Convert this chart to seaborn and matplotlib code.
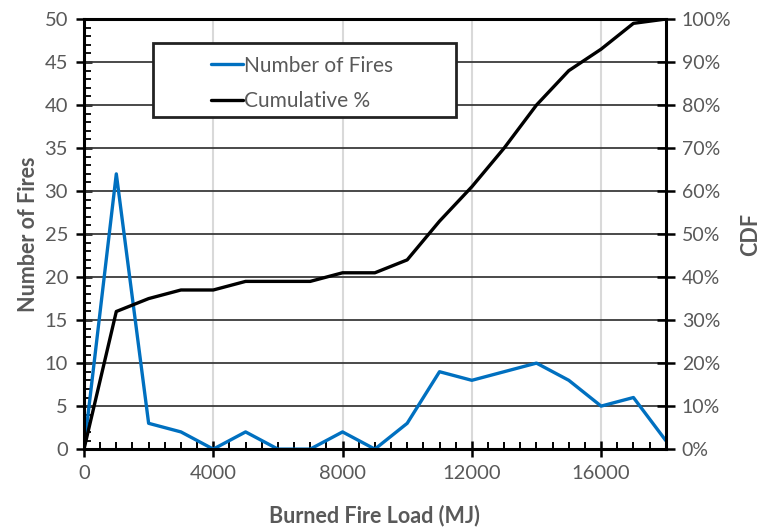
import matplotlib
matplotlib.use("Agg")
import matplotlib.pyplot as plt
import seaborn as sns
import pandas as pd
from matplotlib.patches import Rectangle
from matplotlib.ticker import MultipleLocator, FuncFormatter

# Data
fire_load = [0, 1000, 2000, 3000, 4000, 5000, 6000, 7000, 8000, 9000,
             10000, 11000, 12000, 13000, 14000, 15000, 16000, 17000, 18000]
num_fires = [0, 32, 3, 2, 0, 2, 0, 0, 2, 0, 3, 9, 8, 9, 10, 8, 5, 6, 1]
cumulative_pct = [0, 32, 35, 37, 37, 39, 39, 39, 41, 41, 44, 53, 61, 70, 80, 88, 93, 99, 100]

x_ticks = [0, 4000, 8000, 12000, 16000]
left_ticks = [0, 5, 10, 15, 20, 25, 30, 35, 40, 45, 50]
right_ticks = [0, 10, 20, 30, 40, 50, 60, 70, 80, 90, 100]

df = pd.DataFrame({"load": fire_load, "fires": num_fires, "cum": cumulative_pct})

sns.set_theme(style="white")
plt.rcParams["font.family"] = ["Lato", "DejaVu Sans"]
plt.rcParams.update({
    "xtick.bottom": True, "ytick.left": True, "ytick.right": True,
    "xtick.minor.visible": True, "ytick.minor.visible": True,
})
TXT = "#595959"
FS = 14.5

fig = plt.figure(figsize=(7.67, 5.29), dpi=100)
ax = fig.add_axes([0.1095, 0.151, 0.7585, 0.813])
ax2 = ax.twinx()

# Lines
sns.lineplot(data=df, x="load", y="fires", ax=ax, color="#0070C0", linewidth=2.4,
             label="Number of Fires", legend=False, zorder=5)
sns.lineplot(data=df, x="load", y="cum", ax=ax2, color="black", linewidth=2.4,
             label="Cumulative %", legend=False, zorder=5)

# Axes limits
ax.set_xlim(0, 18000)
ax.set_ylim(0, 50)
ax2.set_ylim(0, 100)

# Grid
for v in x_ticks[1:]:
    ax.axvline(v, color="#d9d9d9", linewidth=1.5, zorder=0)
for h in left_ticks[1:]:
    ax.axhline(h, color="#3a3a3a", linewidth=1.3, zorder=1)

# Ticks
ax.set_xticks(x_ticks)
ax.xaxis.set_minor_locator(MultipleLocator(500))
ax.set_yticks(left_ticks)
ax.yaxis.set_minor_locator(MultipleLocator(1))
ax2.set_yticks(right_ticks)
ax2.yaxis.set_minor_locator(MultipleLocator(100))
ax2.yaxis.set_major_formatter(FuncFormatter(lambda v, p: f"{v:.0f}%"))

ax.xaxis.set_tick_params(which="major", direction="inout", length=11, width=1.8,
                         color="black", labelsize=FS, labelcolor=TXT, pad=6,
                         bottom=True, top=False)
ax.xaxis.set_tick_params(which="minor", direction="in", length=5, width=1.4,
                         color="black", bottom=True, top=False)
ax.yaxis.set_tick_params(which="major", direction="inout", length=11, width=1.8,
                         color="black", labelsize=FS, labelcolor=TXT, pad=6,
                         left=True, right=False)
ax.yaxis.set_tick_params(which="minor", direction="in", length=5, width=1.3,
                         color="black", left=True, right=False)
ax2.yaxis.set_tick_params(which="major", direction="inout", length=13, width=1.8,
                          color="black", labelsize=14, labelcolor=TXT, pad=5,
                          right=True, left=False)
ax2.yaxis.set_tick_params(which="minor", length=0)

for a in (ax, ax2):
    for s in a.spines.values():
        s.set_visible(False)
for side in ("left", "bottom", "right", "top"):
    sp = ax2.spines[side]
    sp.set_visible(True)
    sp.set_color("black")
    sp.set_linewidth(2.2)
    sp.set_zorder(6)

# Labels
LFS = 15.5
ax.set_xlabel("Burned Fire Load (MJ)", fontsize=LFS, fontweight="bold", color=TXT, labelpad=16)
ax.set_ylabel("Number of Fires", fontsize=LFS, fontweight="bold", color=TXT, labelpad=4)
ax2.set_ylabel("CDF", fontsize=LFS, fontweight="bold", color=TXT, labelpad=6)

# Legend box
rect = Rectangle((0.1186, 0.772), 0.5206, 0.172, transform=ax2.transAxes,
                 facecolor="white", edgecolor="#222222", linewidth=2, zorder=8)
ax2.add_patch(rect)
h1, l1 = ax.get_legend_handles_labels()
h2, l2 = ax2.get_legend_handles_labels()
leg = ax2.legend(h1 + h2, l1 + l2, loc="center",
                 bbox_to_anchor=(0.1186 + 0.5206 / 2 - 0.004, 0.772 + 0.172 / 2 - 0.008),
                 frameon=False, fontsize=15, handlelength=1.5, handletextpad=0.05,
                 labelspacing=0.75, labelcolor=TXT)
leg.set_zorder(9)

fig.savefig("out.png", dpi=100)
